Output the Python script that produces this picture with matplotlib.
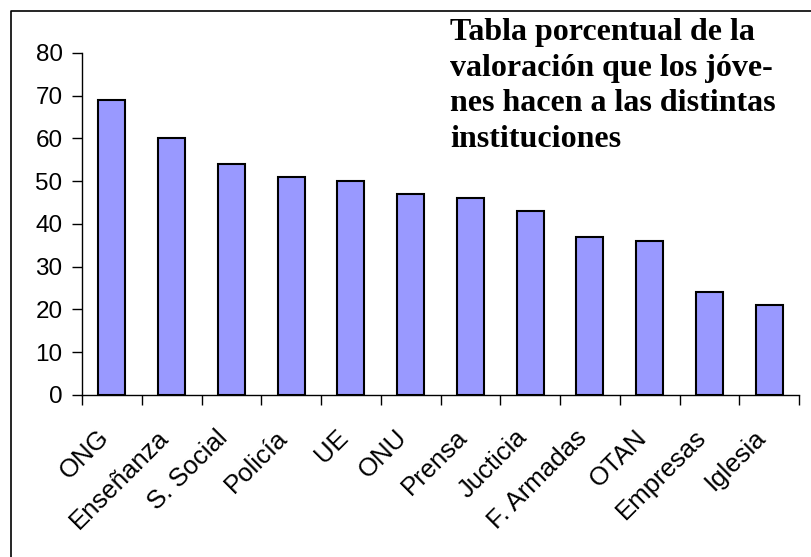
import matplotlib.pyplot as plt
import matplotlib.transforms as mtransforms
from matplotlib.lines import Line2D
import numpy as np

instituciones = ['ONG', 'Enseñanza', 'S. Social', 'Policía', 'UE', 'ONU',
                 'Prensa', 'Jucticia', 'F. Armadas', 'OTAN', 'Empresas', 'Iglesia']
porcentajes = [69, 60, 54, 51, 50, 47, 46, 43, 37, 36, 24, 21]
y_ticks = [0, 10, 20, 30, 40, 50, 60, 70, 80]

titulo = ('Tabla porcentual de la\n'
          'valoración que los jóve-\n'
          'nes hacen a las distintas\n'
          'instituciones')


def main():
    fig = plt.figure(figsize=(8.12, 5.57), dpi=100)
    ax = fig.add_axes([0.101, 0.291, 0.883, 0.614])

    x = np.arange(len(instituciones))
    ax.bar(x, porcentajes, width=0.45, color='#9999FF',
           edgecolor='black', linewidth=1.5, zorder=3)

    ax.set_xlim(-0.5, len(instituciones) - 0.5)
    ax.set_ylim(0, 80)
    ax.set_yticks(y_ticks)

    # ticks at category borders, labels at centres
    ax.set_xticks(np.arange(len(instituciones) + 1) - 0.5)
    ax.set_xticklabels([])
    ax.set_xticks(x, minor=True)
    ax.set_xticklabels(instituciones, minor=True, rotation=45,
                       ha='right', va='center', rotation_mode='anchor',
                       fontsize=18.5, family='Liberation Sans')
    ax.tick_params(axis='x', which='minor', length=0, pad=28)
    ax.tick_params(axis='x', which='major', direction='out', length=7, width=1)
    ax.tick_params(axis='y', direction='out', length=7, width=1,
                   labelsize=17.5, pad=7)
    for lbl in ax.get_yticklabels():
        lbl.set_family('Liberation Sans')

    shift = mtransforms.ScaledTranslation(-7 / 100, 0, fig.dpi_scale_trans)
    for lbl in ax.get_xticklabels(minor=True):
        lbl.set_transform(lbl.get_transform() + shift)

    for side in ['top', 'right']:
        ax.spines[side].set_visible(False)
    for side in ['left', 'bottom']:
        ax.spines[side].set_linewidth(1)

    fig.text(0.554, 0.968, titulo, ha='left', va='top', fontsize=23,
             fontweight='bold', family='Liberation Serif', linespacing=1.31)

    # chart area border (only top and left visible in the crop)
    fig.add_artist(Line2D([0.0135, 0.0135, 1.0], [0.0, 0.98, 0.98],
                          transform=fig.transFigure, color='black',
                          linewidth=1.2))

    fig.savefig('out.png', dpi=100)


if __name__ == '__main__':
    main()
